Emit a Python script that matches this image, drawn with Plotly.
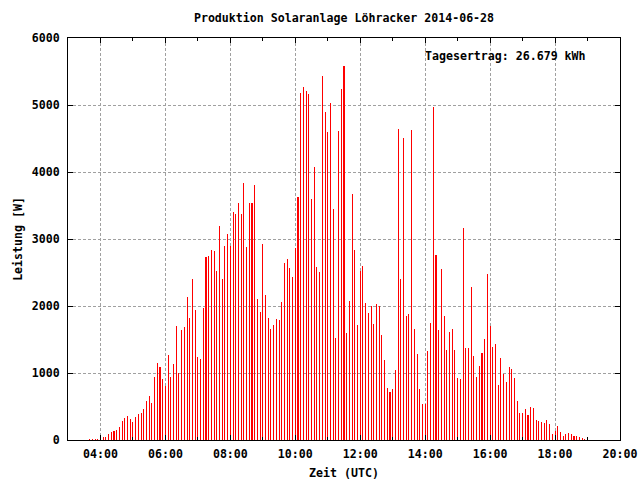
import pandas as pd
import plotly.graph_objects as go

# 5-minute power readings [W], starting 03:40 UTC
start_time = "2014-06-28 03:40"
power_w = [
    15, 15, 15, 15, 20, 50, 50, 95, 120, 135, 150, 200,            # 03:40-04:35
    285, 335, 360, 315, 275, 345, 390, 405, 470, 585, 660, 545,    # 04:40-05:35
    945, 1155, 1095, 905, 810, 1275, 945, 1140, 1695, 995, 1635, 1685,  # 05:40-06:35
    2130, 1815, 2400, 1935, 1245, 1215, 1965, 2730, 2745, 2835, 2820, 2520,  # 06:40-07:35
    3195, 2400, 2895, 3075, 2895, 3405, 3375, 3540, 3375, 3840, 2880, 3540,  # 07:40-08:35
    3540, 3810, 2100, 1905, 2925, 2160, 1815, 1650, 1710, 1800, 1785, 2055,  # 08:40-09:35
    2640, 2700, 2565, 2430, 2860, 3620, 5183, 5273, 5213, 5168, 3600, 4078,  # 09:40-10:35
    2584, 2510, 5437, 4899, 4600, 5034, 3450, 1524, 4616, 5243, 5587, 1598,  # 10:40-11:35
    2076, 3675, 2838, 1718, 2524, 2599, 2046, 1897, 2002, 1733, 2031, 2002,  # 11:40-12:35
    1568, 1195, 777, 717, 762, 1046, 4645, 2405, 4511, 1852, 1882, 4630,     # 12:40-13:35
    1658, 1285, 762, 538, 538, 1329, 1748, 4974, 2763, 1643, 2554, 1852,     # 13:40-14:35
    1344, 1613, 1658, 1344, 926, 911, 3167, 1374, 1374, 2285, 1255, 941,     # 14:40-15:35
    1105, 1300, 1509, 2480, 1703, 1389, 1434, 822, 1225, 986, 866, 1090,     # 15:40-16:35
    1060, 926, 583, 403, 403, 463, 373, 493, 478, 299, 284, 269,             # 16:40-17:35
    254, 299, 239, 90, 134, 209, 120, 60, 90, 105, 90, 60,                   # 17:40-18:35
    60, 45, 30, 15,                                                          # 18:40-18:55
]
times = pd.date_range(start_time, periods=len(power_w), freq="5min")

title_text = "Produktion Solaranlage Löhracker 2014-06-28"
yield_text = "Tagesertrag: 26.679 kWh"
x_title = "Zeit (UTC)"
y_title = "Leistung [W]"
x_range = ["2014-06-28 03:00", "2014-06-28 20:00"]
y_range = [0, 6000]

FONT = dict(family="DejaVu Sans Mono", size=11.6, color="black", weight="bold")
GRID = "#a0a0a0"

W, H = 640, 480

fig = go.Figure()
fig.add_trace(go.Bar(
    x=times, y=power_w,
    width=8000,
    marker=dict(color="#ff0000", line=dict(width=0)),
    showlegend=False,
))

fig.update_layout(
    width=W, height=H,
    margin=dict(l=68, r=20, t=38, b=40, autoexpand=False),
    paper_bgcolor="white", plot_bgcolor="white",
    font=FONT,
    bargap=0,
    title=dict(text=title_text, x=0.5, xref="paper", y=1 - 18 / H, yref="container",
               xanchor="center", yanchor="middle", font=FONT, automargin=False),
    annotations=[dict(text=yield_text, xref="paper", yref="paper",
                      x=0.942, y=0.956, xanchor="right", yanchor="middle",
                      showarrow=False, font=FONT)],
)

fig.update_xaxes(
    type="date", range=x_range, automargin=False,
    tickformat="%H:%M", dtick=7200000, tick0="2014-06-28 00:00",
    showline=True, linecolor="black", linewidth=1, mirror="ticks",
    ticks="inside", ticklen=5, tickcolor="black",
    minor=dict(dtick=3600000, tick0="2014-06-28 00:00", ticks="inside", ticklen=3, tickcolor="black", showgrid=False),
    showgrid=True, gridcolor=GRID, griddash="3px,2px", gridwidth=1,
    zeroline=False,
    title=dict(text=x_title, standoff=9, font=FONT),
    ticklabelstandoff=3,
)
fig.update_yaxes(
    range=y_range, dtick=1000, automargin=False,
    showline=True, linecolor="black", linewidth=1, mirror="ticks",
    ticks="inside", ticklen=5, tickcolor="black",
    showgrid=True, gridcolor=GRID, griddash="3px,2px", gridwidth=1,
    zeroline=False,
    title=dict(text=y_title, standoff=6, font=FONT),
    ticklabelstandoff=5,
)

# remove the page's default body margin so the 640x480 figure fills the window exactly
fig.write_html(
    "out.html",
    config={"displayModeBar": False, "staticPlot": False},
    post_script="document.body.style.margin='0';document.body.style.overflow='hidden';",
)
